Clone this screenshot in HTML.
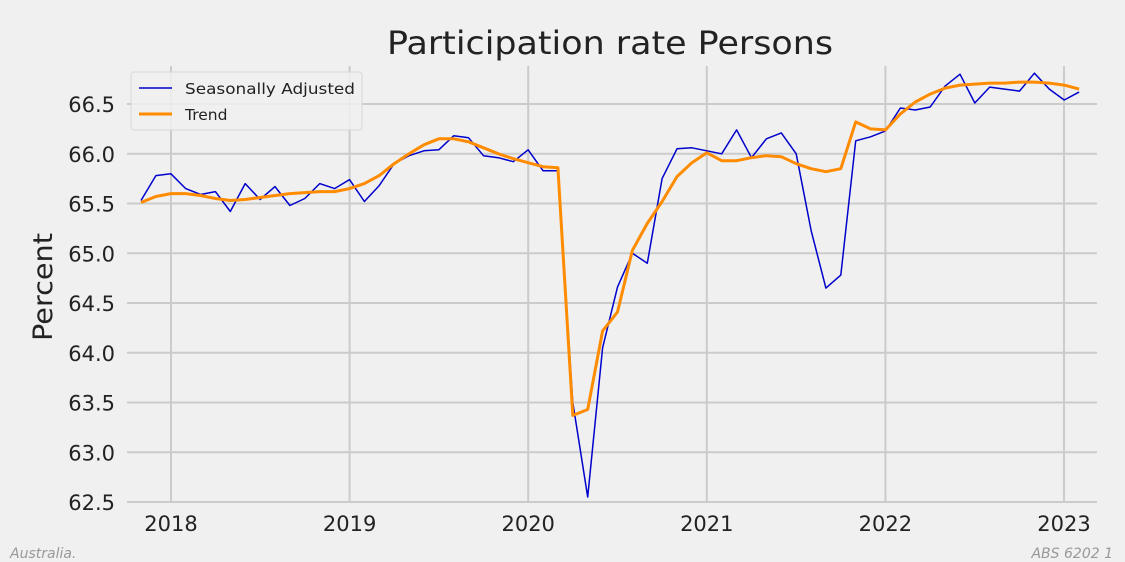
<!DOCTYPE html>
<html><head><meta charset="utf-8"><style>
body{margin:0;background:#f0f0f0;}
svg{display:block;font-family:"DejaVu Sans","Liberation Sans",sans-serif;}
</style></head><body>
<svg id="s" width="1125" height="562" xmlns="http://www.w3.org/2000/svg">
<rect width="1125" height="562" fill="#f0f0f0"/>
<g id="grid" stroke="#cbcbcb" stroke-width="2"></g>
<text x="610" y="54" font-size="32" text-anchor="middle" fill="#222" textLength="446" lengthAdjust="spacingAndGlyphs">Participation rate Persons</text>
<text transform="translate(52,287) rotate(-90)" font-size="27" text-anchor="middle" fill="#222" textLength="108" lengthAdjust="spacingAndGlyphs">Percent</text>
<g id="lab" font-size="21" fill="#222"></g>
<polyline id="sa" fill="none" stroke="#0000cc" stroke-width="1.5" stroke-linejoin="round"/>
<polyline id="tr" fill="none" stroke="#ff8c00" stroke-width="3" stroke-linejoin="round"/>
<rect x="131" y="72" width="231" height="58" rx="3" fill="#f0f0f0" fill-opacity="0.85" stroke="#d8d8d8"/>
<line x1="139" y1="88" x2="172" y2="88" stroke="#0000cc" stroke-width="1.5"/>
<line x1="139" y1="114" x2="172" y2="114" stroke="#ff8c00" stroke-width="3"/>
<text x="185" y="94" font-size="15.5" fill="#222" textLength="170" lengthAdjust="spacingAndGlyphs">Seasonally Adjusted</text>
<text x="185" y="120" font-size="15.5" fill="#222">Trend</text>
<text x="10" y="558" font-size="14" font-style="italic" fill="#999">Australia.</text>
<text x="1113" y="558" font-size="14" font-style="italic" fill="#999" text-anchor="end">ABS 6202 1</text>
</svg>
<script>
var ns="http://www.w3.org/2000/svg";
function Y(v){return 104+(66.5-v)*99.5;}
function X(i){return 141+i*14.89;}
var g=document.getElementById('grid'),lab=document.getElementById('lab');
function el(p,t,a,txt){var e=document.createElementNS(ns,t);for(var k in a)e.setAttribute(k,a[k]);if(txt)e.textContent=txt;p.appendChild(e);}
for(var v=62.5;v<=66.51;v+=0.5){var y=Y(v);el(g,'line',{x1:127,x2:1097,y1:y,y2:y});el(lab,'text',{x:115,y:y+8,'text-anchor':'end'},v.toFixed(1));}
var yrs=[2018,2019,2020,2021,2022,2023];
for(var k=0;k<6;k++){var x=171+k*178.6;el(g,'line',{x1:x,x2:x,y1:66,y2:502});el(lab,'text',{x:x,y:531,'text-anchor':'middle'},''+yrs[k]);}
var sa=[65.53,65.78,65.80,65.65,65.59,65.62,65.42,65.70,65.54,65.67,65.48,65.55,65.70,65.65,65.74,65.52,65.68,65.90,65.98,66.03,66.04,66.18,66.16,65.98,65.96,65.92,66.04,65.83,65.83,63.5,62.55,64.05,64.66,65.0,64.90,65.75,66.05,66.06,66.03,66.0,66.24,65.96,66.15,66.21,66.0,65.23,64.65,64.78,66.13,66.17,66.23,66.46,66.44,66.47,66.68,66.80,66.51,66.67,66.65,66.63,66.81,66.65,66.54,66.62];
var tr=[65.51,65.57,65.60,65.60,65.58,65.55,65.53,65.54,65.56,65.58,65.60,65.61,65.62,65.62,65.65,65.70,65.78,65.90,66.0,66.09,66.15,66.15,66.12,66.06,66.0,65.95,65.91,65.87,65.86,63.37,63.43,64.22,64.41,65.03,65.30,65.52,65.77,65.91,66.01,65.93,65.93,65.96,65.98,65.97,65.90,65.85,65.82,65.85,66.32,66.25,66.24,66.40,66.52,66.60,66.66,66.69,66.70,66.71,66.71,66.72,66.72,66.71,66.69,66.65];
function pts(a){return a.map(function(v,i){return X(i).toFixed(1)+','+Y(v).toFixed(1);}).join(' ');}
document.getElementById('sa').setAttribute('points',pts(sa));
document.getElementById('tr').setAttribute('points',pts(tr));
</script>
</body></html>
